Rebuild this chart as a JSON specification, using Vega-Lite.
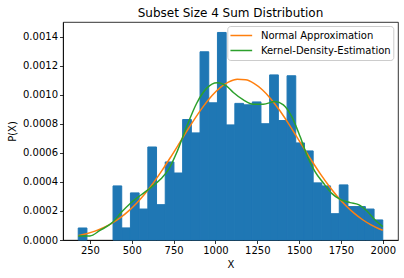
{
  "$schema": "https://vega.github.io/schema/vega-lite/v6.json",
  "autosize": {"type": "none"},
  "padding": {"left": 63, "top": 22, "right": 6, "bottom": 38},
  "width": 335,
  "height": 218,
  "title": {"text": "Subset Size 4 Sum Distribution", "fontSize": 12, "fontWeight": "normal", "font": "DejaVu Sans", "color": "#000000", "offset": 2.5},
  "config": {
    "font": "DejaVu Sans",
    "view": {"stroke": "#000000", "strokeWidth": 0.8},
    "axis": {"grid": false, "domainColor": "#000000", "domainWidth": 0.8, "tickColor": "#000000", "tickWidth": 0.8, "tickSize": 3.5, "labelColor": "#000000", "titleColor": "#000000", "labelFontSize": 10, "titleFontSize": 10, "titleFontWeight": "normal", "labelPadding": 2, "labelFont": "DejaVu Sans", "titleFont": "DejaVu Sans", "labelOverlap": false},
    "legend": {"labelFont": "DejaVu Sans"}
  },
  "datasets": {
    "bars": [
      {"start": 180, "end": 232, "density": 0.0000826},
      {"start": 388, "end": 440, "density": 0.000372},
      {"start": 440, "end": 492, "density": 0.000083},
      {"start": 492, "end": 544, "density": 0.000324},
      {"start": 544, "end": 596, "density": 0.000213},
      {"start": 596, "end": 648, "density": 0.00064},
      {"start": 648, "end": 700, "density": 0.000243},
      {"start": 700, "end": 752, "density": 0.000537},
      {"start": 752, "end": 804, "density": 0.000461},
      {"start": 804, "end": 856, "density": 0.000829},
      {"start": 856, "end": 908, "density": 0.000737},
      {"start": 908, "end": 960, "density": 0.001295},
      {"start": 960, "end": 1012, "density": 0.000944},
      {"start": 1012, "end": 1064, "density": 0.001428},
      {"start": 1064, "end": 1116, "density": 0.000792},
      {"start": 1116, "end": 1168, "density": 0.00094},
      {"start": 1168, "end": 1220, "density": 0.00093},
      {"start": 1220, "end": 1272, "density": 0.00095},
      {"start": 1272, "end": 1324, "density": 0.0008},
      {"start": 1324, "end": 1376, "density": 0.001136},
      {"start": 1376, "end": 1428, "density": 0.000822},
      {"start": 1428, "end": 1480, "density": 0.00113},
      {"start": 1480, "end": 1532, "density": 0.000668},
      {"start": 1532, "end": 1584, "density": 0.000613},
      {"start": 1584, "end": 1636, "density": 0.000393},
      {"start": 1636, "end": 1688, "density": 0.000372},
      {"start": 1688, "end": 1740, "density": 0.000181},
      {"start": 1740, "end": 1792, "density": 0.000379},
      {"start": 1792, "end": 1844, "density": 0.00023},
      {"start": 1844, "end": 1896, "density": 0.00023},
      {"start": 1896, "end": 1948, "density": 0.000213},
      {"start": 1948, "end": 2000, "density": 0.000138}
    ],
    "curves": [
      {"series": "Normal Approximation", "x": 180, "p": 0.0000300},
      {"series": "Normal Approximation", "x": 230, "p": 0.0000432},
      {"series": "Normal Approximation", "x": 280, "p": 0.0000609},
      {"series": "Normal Approximation", "x": 330, "p": 0.0000843},
      {"series": "Normal Approximation", "x": 380, "p": 0.0001144},
      {"series": "Normal Approximation", "x": 430, "p": 0.0001523},
      {"series": "Normal Approximation", "x": 480, "p": 0.0001989},
      {"series": "Normal Approximation", "x": 530, "p": 0.0002548},
      {"series": "Normal Approximation", "x": 580, "p": 0.0003201},
      {"series": "Normal Approximation", "x": 630, "p": 0.0003946},
      {"series": "Normal Approximation", "x": 680, "p": 0.0004771},
      {"series": "Normal Approximation", "x": 730, "p": 0.0005658},
      {"series": "Normal Approximation", "x": 780, "p": 0.0006582},
      {"series": "Normal Approximation", "x": 830, "p": 0.0007510},
      {"series": "Normal Approximation", "x": 880, "p": 0.0008405},
      {"series": "Normal Approximation", "x": 930, "p": 0.0009228},
      {"series": "Normal Approximation", "x": 980, "p": 0.0009937},
      {"series": "Normal Approximation", "x": 1030, "p": 0.0010497},
      {"series": "Normal Approximation", "x": 1080, "p": 0.0010876},
      {"series": "Normal Approximation", "x": 1130, "p": 0.0011054},
      {"series": "Normal Approximation", "x": 1180, "p": 0.0011020},
      {"series": "Normal Approximation", "x": 1230, "p": 0.0010776},
      {"series": "Normal Approximation", "x": 1280, "p": 0.0010336},
      {"series": "Normal Approximation", "x": 1330, "p": 0.0009725},
      {"series": "Normal Approximation", "x": 1380, "p": 0.0008975},
      {"series": "Normal Approximation", "x": 1430, "p": 0.0008125},
      {"series": "Normal Approximation", "x": 1480, "p": 0.0007215},
      {"series": "Normal Approximation", "x": 1530, "p": 0.0006284},
      {"series": "Normal Approximation", "x": 1580, "p": 0.0005368},
      {"series": "Normal Approximation", "x": 1630, "p": 0.0004499},
      {"series": "Normal Approximation", "x": 1680, "p": 0.0003698},
      {"series": "Normal Approximation", "x": 1730, "p": 0.0002982},
      {"series": "Normal Approximation", "x": 1780, "p": 0.0002359},
      {"series": "Normal Approximation", "x": 1830, "p": 0.0001830},
      {"series": "Normal Approximation", "x": 1880, "p": 0.0001393},
      {"series": "Normal Approximation", "x": 1930, "p": 0.0001039},
      {"series": "Normal Approximation", "x": 1980, "p": 0.0000761},
      {"series": "Normal Approximation", "x": 2000, "p": 0.0000668},
      {"series": "Kernel-Density-Estimation", "x": 180, "p": 0.000028},
      {"series": "Kernel-Density-Estimation", "x": 250, "p": 0.000028},
      {"series": "Kernel-Density-Estimation", "x": 310, "p": 0.000066},
      {"series": "Kernel-Density-Estimation", "x": 389, "p": 0.000125},
      {"series": "Kernel-Density-Estimation", "x": 439, "p": 0.000192},
      {"series": "Kernel-Density-Estimation", "x": 494, "p": 0.000255},
      {"series": "Kernel-Density-Estimation", "x": 559, "p": 0.000313},
      {"series": "Kernel-Density-Estimation", "x": 618, "p": 0.000364},
      {"series": "Kernel-Density-Estimation", "x": 673, "p": 0.000419},
      {"series": "Kernel-Density-Estimation", "x": 718, "p": 0.000482},
      {"series": "Kernel-Density-Estimation", "x": 768, "p": 0.000600},
      {"series": "Kernel-Density-Estimation", "x": 828, "p": 0.000780},
      {"series": "Kernel-Density-Estimation", "x": 888, "p": 0.000941},
      {"series": "Kernel-Density-Estimation", "x": 948, "p": 0.001045},
      {"series": "Kernel-Density-Estimation", "x": 1010, "p": 0.001082},
      {"series": "Kernel-Density-Estimation", "x": 1067, "p": 0.001058},
      {"series": "Kernel-Density-Estimation", "x": 1107, "p": 0.001015},
      {"series": "Kernel-Density-Estimation", "x": 1167, "p": 0.000964},
      {"series": "Kernel-Density-Estimation", "x": 1227, "p": 0.000934},
      {"series": "Kernel-Density-Estimation", "x": 1286, "p": 0.000934},
      {"series": "Kernel-Density-Estimation", "x": 1356, "p": 0.000953},
      {"series": "Kernel-Density-Estimation", "x": 1406, "p": 0.000930},
      {"series": "Kernel-Density-Estimation", "x": 1456, "p": 0.000849},
      {"series": "Kernel-Density-Estimation", "x": 1506, "p": 0.000712},
      {"series": "Kernel-Density-Estimation", "x": 1550, "p": 0.000574},
      {"series": "Kernel-Density-Estimation", "x": 1595, "p": 0.000470},
      {"series": "Kernel-Density-Estimation", "x": 1645, "p": 0.000392},
      {"series": "Kernel-Density-Estimation", "x": 1695, "p": 0.000321},
      {"series": "Kernel-Density-Estimation", "x": 1745, "p": 0.000280},
      {"series": "Kernel-Density-Estimation", "x": 1805, "p": 0.000257},
      {"series": "Kernel-Density-Estimation", "x": 1855, "p": 0.000243},
      {"series": "Kernel-Density-Estimation", "x": 1905, "p": 0.000200},
      {"series": "Kernel-Density-Estimation", "x": 1954, "p": 0.000138},
      {"series": "Kernel-Density-Estimation", "x": 2000, "p": 0.000092}
    ]
  },
  "layer": [
    {
      "data": {"name": "bars"},
      "mark": {"type": "bar", "color": "#1f77b4", "stroke": "#1f77b4", "strokeWidth": 1},
      "encoding": {
        "x": {"field": "start", "type": "quantitative", "scale": {"domain": [89, 2091], "nice": false, "zero": false}, "axis": {"title": "X", "values": [250, 500, 750, 1000, 1250, 1500, 1750, 2000], "format": "d", "titlePadding": 4, "labelOverlap": false}},
        "x2": {"field": "end"},
        "y": {"field": "density", "type": "quantitative", "scale": {"domain": [0, 0.0015], "nice": false}, "axis": {"title": "P(X)", "values": [0, 0.0002, 0.0004, 0.0006, 0.0008, 0.001, 0.0012, 0.0014], "format": ".4f", "titlePadding": 5, "labelOverlap": false}},
        "y2": {"datum": 0}
      }
    },
    {
      "data": {"name": "curves"},
      "mark": {"type": "line", "strokeWidth": 1.5, "interpolate": "monotone"},
      "encoding": {
        "x": {"field": "x", "type": "quantitative", "axis": {"title": "X", "values": [250, 500, 750, 1000, 1250, 1500, 1750, 2000], "format": "d", "titlePadding": 4, "labelOverlap": false}},
        "y": {"field": "p", "type": "quantitative", "axis": {"title": "P(X)", "values": [0, 0.0002, 0.0004, 0.0006, 0.0008, 0.001, 0.0012, 0.0014], "format": ".4f", "titlePadding": 5, "labelOverlap": false}},
        "color": {
          "field": "series", "type": "nominal",
          "scale": {"domain": ["Normal Approximation", "Kernel-Density-Estimation"], "range": ["#ff7f0e", "#2ca02c"]},
          "legend": {"title": null, "orient": "none", "legendX": 164.3, "legendY": 4, "symbolType": "stroke", "symbolSize": 471, "clipHeight": 15, "symbolStrokeWidth": 1.5, "labelFontSize": 10, "labelColor": "#000000", "labelOffset": 7.6, "rowPadding": 0, "padding": 2, "strokeColor": "#cccccc", "fillColor": "rgba(255,255,255,0.8)", "cornerRadius": 3}
        }
      }
    }
  ]
}
